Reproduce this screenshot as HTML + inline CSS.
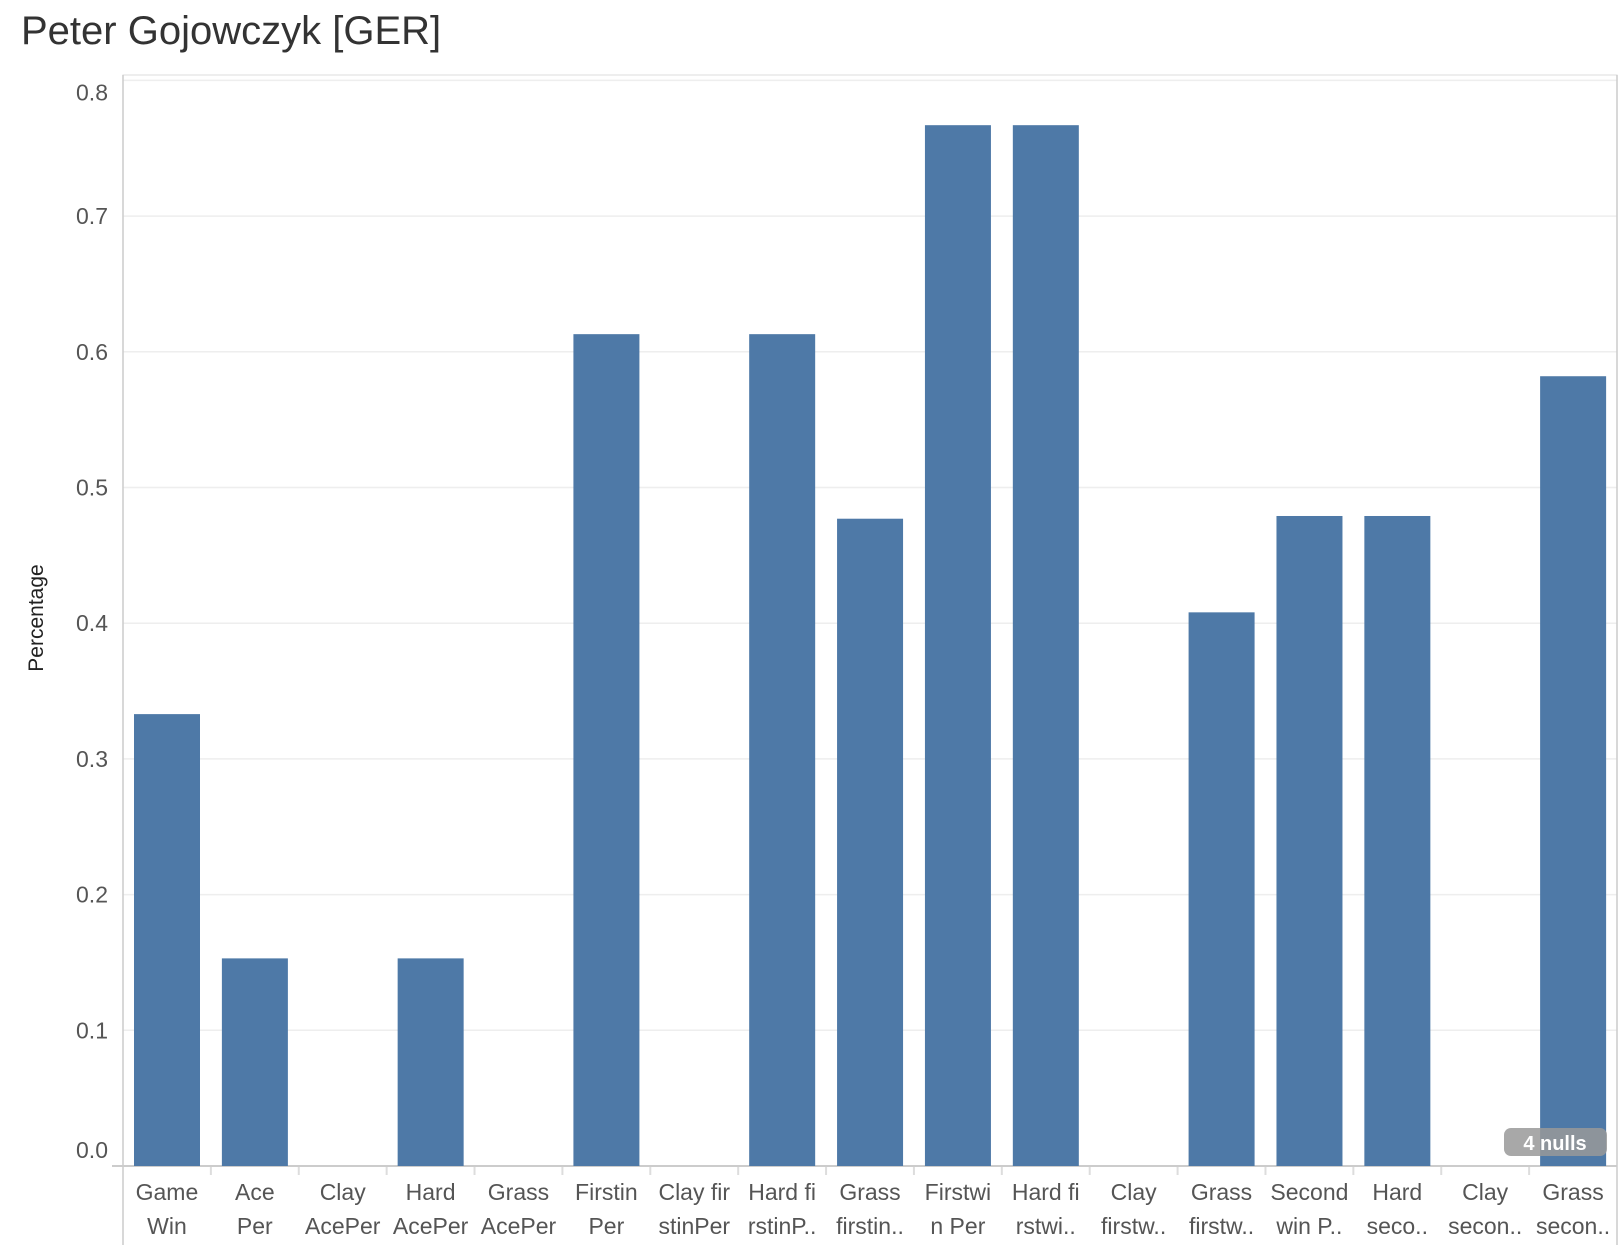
<!DOCTYPE html>
<html><head><meta charset="utf-8"><style>
body{margin:0;background:#fff;font-family:"Liberation Sans",sans-serif;}
</style></head><body>
<svg id="c" width="1624" height="1254" xmlns="http://www.w3.org/2000/svg">
<text x="21" y="44" font-size="40" fill="#333">Peter Gojowczyk [GER]</text>
<text transform="translate(43,618) rotate(-90)" text-anchor="middle" font-size="21" fill="#222">Percentage</text>
<g id="grid"></g><g id="bars"></g><g id="xlab"></g><g id="ylab"></g>
</svg>
<script>
const categories=[["Game","Win"],["Ace","Per"],["Clay","AcePer"],["Hard","AcePer"],["Grass","AcePer"],["Firstin","Per"],["Clay fir","stinPer"],["Hard fi","rstinP.."],["Grass","firstin.."],["Firstwi","n Per"],["Hard fi","rstwi.."],["Clay","firstw.."],["Grass","firstw.."],["Second","win P.."],["Hard","seco.."],["Clay","secon.."],["Grass","secon.."]];
const values=[0.333,0.153,null,0.153,null,0.613,null,0.613,0.477,0.767,0.767,null,0.408,0.479,0.479,null,0.582];
const yTicks=[0,0.1,0.2,0.3,0.4,0.5,0.6,0.7,0.8];
const yTickLabels=["0.0","0.1","0.2","0.3","0.4","0.5","0.6","0.7","0.8"];
const NS="http://www.w3.org/2000/svg";
const L=123,R=1617,T=75,B=1166;
const pitch=(R-L)/categories.length;
const y=v=>B-v*1357;
const x=i=>L+i*pitch;
function mk(tag,at,parent,txt){const e=document.createElementNS(NS,tag);for(const k in at)e.setAttribute(k,at[k]);if(txt!==undefined)e.textContent=txt;document.getElementById(parent)?document.getElementById(parent).appendChild(e):document.getElementById('c').appendChild(e);return e;}
// frame
let f=mk('rect',{x:L,y:T,width:R-L,height:B-T,fill:'none',stroke:'#ddd','stroke-width':1},'grid');

yTicks.forEach((t,i)=>{
 if(t>0){const g=mk('line',{x1:L,x2:R,y1:y(t),y2:y(t),stroke:'#eee','stroke-width':1.5},'grid');
 }
 const ty=t===0.8?y(t)+20:(t===0?y(t)-8:y(t)+8);
 const l=mk('text',{x:108,y:ty,'text-anchor':'end','font-size':23,fill:'#555'},'ylab',yTickLabels[i]);
 
});
values.forEach((v,i)=>{
 if(v!==null){const r=mk('rect',{x:x(i)+11,y:y(v),width:66,height:B-y(v),fill:'#4e79a7'},'bars');
 }
 const cx=x(i)+pitch/2;
 const a=mk('text',{x:cx,y:1200,'text-anchor':'middle','font-size':23,fill:'#555'},'xlab',categories[i][0]);
 
 const b=mk('text',{x:cx,y:1234,'text-anchor':'middle','font-size':23,fill:'#555'},'xlab',categories[i][1]);
 
 if(i>0){const s=mk('line',{x1:x(i),x2:x(i),y1:B,y2:B+9,stroke:'#ddd','stroke-width':2},'grid');
 }
});
let ax=mk('line',{x1:112,x2:R,y1:B,y2:B,stroke:'#ccc','stroke-width':2},'grid');

let ay=mk('line',{x1:L,x2:L,y1:T,y2:1245,stroke:'#ccc','stroke-width':1.5},'grid');

let ry=mk('line',{x1:R,x2:R,y1:T,y2:1245,stroke:'#ccc','stroke-width':1.5},'grid');

let nb=mk('rect',{x:1504,y:1128,width:103,height:28,rx:7,fill:'#999','fill-opacity':0.85},'bars');

let nt=mk('text',{x:1555,y:1150,'text-anchor':'middle','font-size':20,'font-weight':'bold',fill:'#fff'},'bars','4 nulls');

</script>
</body></html>
